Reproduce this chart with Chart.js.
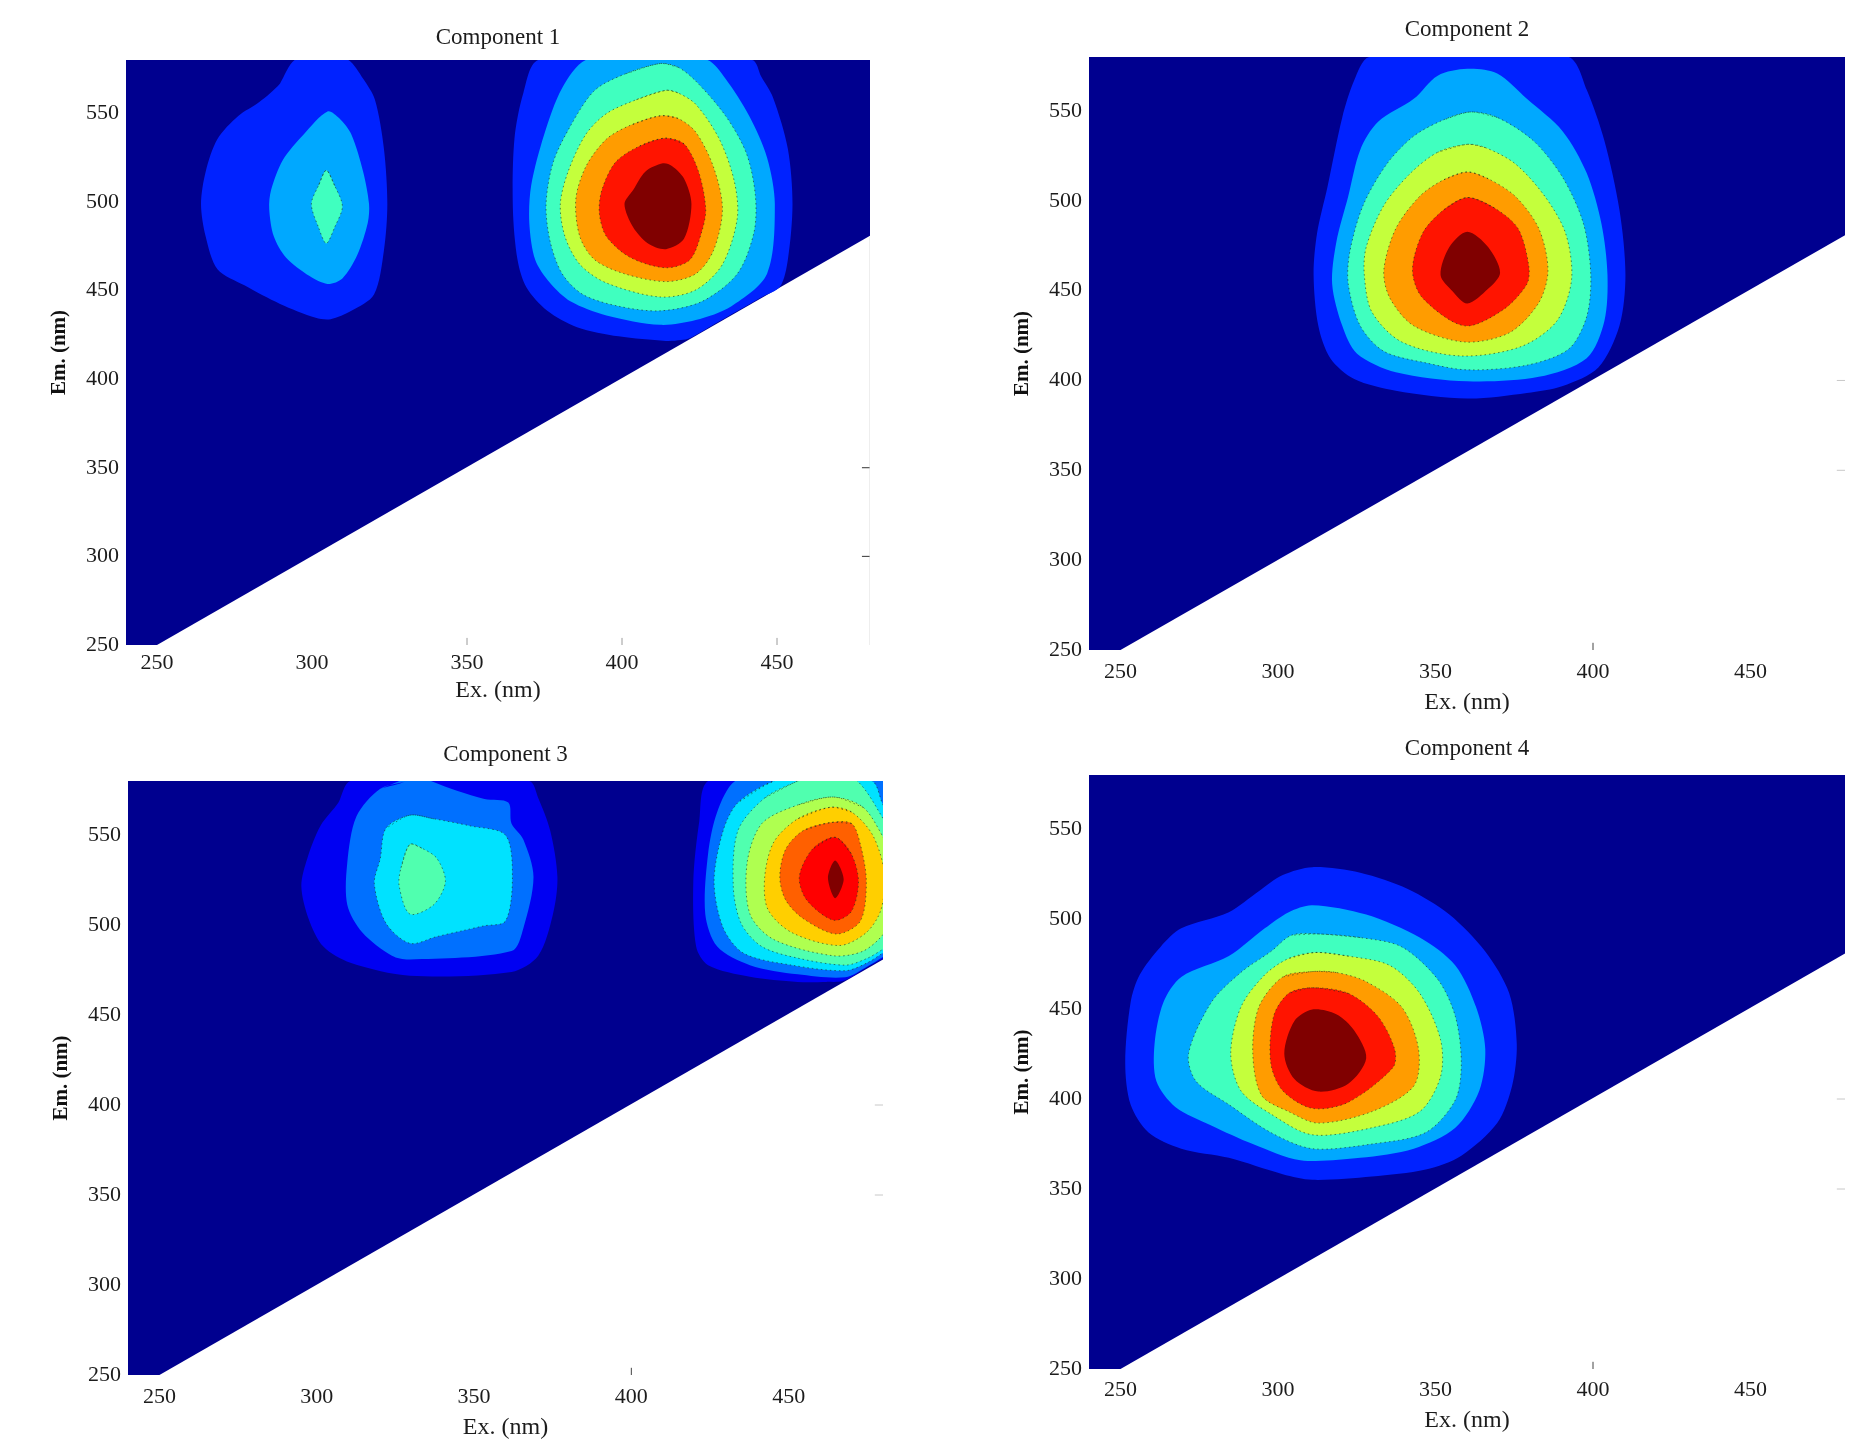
<!DOCTYPE html>
<html lang="en">
<head>
    <meta charset="UTF-8">
    <title>Components</title>
    <script src="https://cdn.jsdelivr.net/npm/chart.js"></script>
    <style>
        body { margin: 0; background: #fff; width: 1864px; height: 1456px; position: relative; overflow: hidden; }
        canvas { position: absolute; filter: blur(0.7px); }
    </style>
</head>
<body>
<script>
    const exTicks = [250, 300, 350, 400, 450];
    const emTicks = [250, 300, 350, 400, 450, 500, 550];
    const titles = ["Component 1", "Component 2", "Component 3", "Component 4"];

    // measured area: everything above the Em = Ex line
    const measuredArea = [[240,250],[250,250],[480,480.8],[480,580],[240,580]];

    // Component 1, left peak
    const c1LeftA = [[294.4,580],[289.7,566.8],[283,556.3],[276.2,548.4],[269.5,535.4],[265.7,517],[264.2,498.7],[265.7,480.4],[269.5,462],[278.2,452.9],[289.7,442.4],[301.2,434.6],[306,433.8],[312.7,438.5],[320,447.7],[323.2,472.5],[324.3,498.7],[323.2,530],[320.3,557.6],[316.5,569.4],[311.7,580],[303,584]];
    const c1LeftB = [[305,551],[297.3,538],[290.6,523.6],[286.8,506.6],[286.2,496],[287.7,480.4],[291.6,468.6],[299.2,458.1],[305,453.7],[309.8,456.8],[314.6,470],[318,488.2],[318.4,498.7],[316.5,517],[312.7,538],[308.8,547.1]];
    const c1LeftC = [[304.6,517.8],[302.1,509.2],[299.8,498.7],[302.1,485.6],[304.6,476.5],[307.3,485.6],[309.8,497.4],[307.3,509.2]];
    // Component 1, right peak
    const c1RightA = [[373,580],[368.2,561.5],[365.3,535.4],[364.8,496.1],[366.3,467.3],[369.2,451.6],[375.9,438.5],[385.5,429.3],[398.9,424.1],[414.2,421.5],[419,422],[422,423.2],[430,431.2],[437.2,438.4],[445,446.2],[451,452.2],[453.5,467.3],[455,498.7],[453.5,530],[448.7,558.9],[444.9,570.7],[442,580],[408,586]];
    const c1RightB = [[388.3,580],[380.7,564.2],[374.9,538],[370.7,509.2],[370.1,488.2],[372,467.3],[376.8,454.2],[383.5,443.7],[395,435.9],[412.3,430.6],[423.8,433.3],[435.3,441.1],[446.8,459.4],[449.3,498.7],[446.8,524.9],[441,548.5],[433.4,569.4],[427.6,580],[408,586]];
    const c1RightC = [[412.3,578],[400.8,572],[391.2,562.9],[383.5,543.2],[377.8,522.3],[375.5,498.7],[376.8,477.8],[380.7,459.4],[387.4,447.7],[398.9,441.1],[412.3,438.5],[425.7,443.7],[437.2,459.4],[442.6,483],[443,504],[440.1,527.5],[433.4,548.5],[423.8,568.1],[418,576]];
    const c1RightD = [[414.2,562.9],[404.6,557.6],[395,549.8],[388.3,538],[382.6,517],[380.1,498.7],[381.6,480.4],[386.4,464.7],[395,454.2],[412.3,446.3],[423.8,450.3],[432.4,464.7],[437.2,490.9],[436.2,511.8],[431.4,535.4],[423.8,555],[418,561.5]];
    const c1RightE = [[412.3,548.5],[402.7,543.2],[395,535.4],[388.3,519.7],[385.1,501.3],[386.4,480.4],[391.2,467.3],[400.8,459.4],[414.2,455],[423.8,459.4],[429.5,472.5],[432.4,496.1],[429.5,519.7],[423.8,539.3],[418,547.1]];
    const c1RightF = [[413.8,535.9],[405.6,531.4],[397.9,522.3],[393.5,506.6],[392.7,493.5],[395,480.4],[402.7,468.6],[414.2,462.8],[421.9,467.3],[425.7,483],[427,496.1],[424.7,517],[420,532.7]];
    const c1RightG = [[413.2,521.7],[407.5,517],[403.6,506.6],[400.8,498.7],[403.6,485.6],[408.4,476.5],[414.2,473.3],[420,479.1],[422.4,498.7],[420,513.1],[416.1,520.2]];

    // Component 2
    const c2A = [[328.9,580],[324.2,567],[320.4,546.4],[315.7,507.7],[312.4,481.9],[311.3,458.7],[312.8,430.4],[316.6,412.4],[324.2,400.8],[337.4,394.3],[360.1,389.9],[379,393],[390.4,396.9],[401.7,407.2],[408.4,430.4],[410.3,458.7],[408.4,494.8],[403.6,533.5],[398,561.8],[392.3,580],[360,586]];
    const c2B = [[360.1,573.4],[350.7,569.6],[343.1,556.7],[331.7,543.8],[326.1,528.3],[322.3,502.5],[318.5,476.8],[317.2,453.6],[320.4,430.4],[325.1,414.9],[337.4,404.6],[360.1,399.5],[382.8,402],[398,412.4],[403.6,433],[404.6,458.7],[402.7,487.1],[398,515.4],[390.4,538.6],[379,556.7],[369.6,570.8]];
    const c2C = [[361.1,549.4],[352.5,545],[343.1,536],[334.6,520.6],[327,497.4],[322.8,471.6],[322.3,453.6],[326.1,430.4],[333.6,416.2],[346.9,409.8],[360.1,405.9],[379,408.5],[392.3,417.5],[398,435.5],[399.3,458.7],[397,487.1],[390.4,512.9],[381,533.5],[369.6,546.4]];
    const c2D = [[360.1,531.4],[350.7,527],[342.1,515.4],[333.6,497.4],[328,474.2],[327.4,458.7],[329.8,438.1],[339.3,421.4],[358.2,413.6],[377.1,418.8],[388.5,433],[393.2,456.2],[391.3,481.9],[384.7,502.5],[375.3,520.6],[365.8,529.6]];
    const c2E = [[360.1,516],[352.5,511.6],[345,502.5],[337.4,484.5],[333.6,461.3],[335.5,445.9],[343.1,430.4],[359.2,421.4],[373.4,426.5],[382.8,443.3],[385.7,461.3],[382.8,484.5],[375.3,502.5],[366.7,512.3]];
    const c2F = [[360.1,501.8],[352.5,494.8],[345.9,481.9],[342.7,461.3],[345.9,445.9],[359.2,430.4],[371.5,439.4],[379,453.6],[379.6,463.9],[376.2,484.5],[368.6,496.1]];
    const c2G = [[360.1,482.7],[354.4,474.2],[351.6,458.7],[355.4,449.7],[360.1,442.8],[366.7,451],[370.5,460],[366.7,474.2]];

    // Component 3, left peak
    const c3LeftA = [[310.7,580],[306.9,568],[301.2,555.1],[297,537],[295.1,521.6],[297.4,503.5],[302.1,488],[310.7,479],[329.6,471.8],[361.9,473.9],[370.4,482.9],[375.1,506.1],[376.5,526.7],[374.2,552.5],[370.4,570.6],[367.6,580],[340,586]];
    const c3LeftB = [[328.7,580],[320.2,575.7],[312.6,560.3],[309.7,534.5],[309.7,511.3],[314.5,495.8],[323.9,482.9],[329.6,480.8],[361.9,485.5],[365.7,498.4],[368.9,526.7],[365.7,547.4],[361.9,556.4],[360.9,568],[353.3,570],[344.8,574.4],[336.3,580],[332,584]];
    const c3LeftC = [[329.6,561],[322,553.8],[320.2,537],[318.3,522.9],[322,501],[329.6,489.8],[338,493.5],[346.7,497],[353,499.5],[360,502.2],[362.2,526.7],[360,549.9],[348.6,555.1],[337.2,559]];
    const c3LeftD = [[329.6,544.8],[326.8,531.9],[326.2,521.6],[329.6,506.1],[337.2,511.3],[340.9,524.1],[338.2,537],[333.4,542.7]];
    // Component 3, right peak (runs off the right edge)
    const c3RightA = [[424.4,580],[421.6,557.7],[419.7,524.1],[420.6,488],[424.4,477.7],[437.7,471.3],[452.9,468.4],[462,468.4],[467.5,469],[474,475.6],[480.5,481.8],[482,483],[486,500],[486,590],[450,590]];
    const c3RightB = [[433,580],[427.3,562.8],[424.4,539.6],[423.5,506.1],[427.3,488],[437.7,477.7],[452.9,472.6],[468,471],[475,477],[480.5,482.8],[482,484],[486,500],[486,590],[450,590]];
    const c3RightC = [[445.3,580],[433.9,568],[429.2,552.5],[426.3,524.1],[429.2,498.4],[435.8,484.2],[451,477.7],[468,474.6],[475,479],[480.5,485],[484,488],[486,510],[486,560],[480.5,565.4],[476.6,580],[460,586]];
    const c3RightD = [[452.9,580],[442.4,570.6],[433.9,552.5],[432.4,521.6],[434.9,500.9],[441.5,488],[452.9,481.6],[468,477.7],[475,481.5],[480.5,487],[484,490],[486,510],[486,540],[480.5,557.7],[471.8,580],[462,586]];
    const c3RightE = [[464.2,571.1],[452.9,566.7],[441.5,556.4],[436.8,534.5],[437.7,506.1],[445.3,491.9],[464.2,482.9],[473.7,485.5],[480.5,495.8],[484,510],[484,535],[480.5,547.4],[473.7,565.4]];
    const c3RightF = [[463.3,565.4],[452.9,559],[445.3,546.1],[442.4,526.7],[443.4,508.7],[451,495.8],[466.1,488.6],[474.7,495.8],[479.4,508.7],[480.4,529.3],[476.7,550],[470,562.8]];
    const c3RightG = [[463.3,556.9],[454.7,552.5],[449.1,542.2],[447.2,526.7],[449.1,513.8],[454.7,503.5],[465.2,495],[472.8,502.2],[474.7,524.1],[472.8,544.8],[470,556.4]];
    const c3RightH = [[464.8,548.7],[457.6,542.2],[453.4,526.7],[455.8,513.8],[464.2,502.7],[469.9,507.4],[472.2,524.1],[469.9,539.6]];
    const c3RightI = [[464.8,535.8],[462.5,526.2],[464.8,514.9],[467.5,525.4]];

    // Component 4
    const c4A = [[310.9,528.8],[301.5,524.4],[293.9,515.4],[284.4,503.8],[269.3,494.8],[262.7,484.5],[256.1,469],[253.2,453.6],[251.5,420.1],[253.2,396.9],[258.9,381.4],[269.3,372.4],[284.4,367.3],[301.5,358.2],[310.9,355.1],[329.8,356.9],[346.9,360.8],[358.2,368.5],[369.6,386.6],[374.3,407.2],[375.8,430.4],[373.4,458.7],[365.8,481.9],[354.4,502.5],[341.2,516.7],[326.1,525.7]];
    const c4B = [[310.9,507.7],[303.4,503.8],[295.8,494.8],[284.4,479.4],[269.3,467.8],[263.6,453.6],[260.8,430.4],[261.4,409.8],[267.4,395.6],[278.8,385.3],[292,375],[307.1,366],[326.1,367.3],[343.1,372.4],[356.3,384],[363.9,404.6],[365.8,427.8],[362.9,451],[356.3,474.2],[345,489.7],[328,502.5]];
    const c4C = [[312.8,491.7],[304.3,491],[297.7,481.9],[288.2,470.3],[278.8,453.6],[271.6,425.2],[274,409.8],[284.4,396.9],[297.7,381.4],[310.9,372.4],[329.8,375],[346.9,381.4],[356.3,399.5],[358.2,420.1],[356.3,445.9],[350.7,466.5],[339.3,484.5],[326.1,489.7]];
    const c4D = [[311.9,481.4],[303.4,478.1],[295.8,469],[288.2,451],[285,425.2],[288.2,404.6],[297.7,391.7],[310.9,380.1],[329.8,384],[345,393],[351.6,412.4],[351.6,433],[345,458.7],[335.5,474.2],[322.3,479.4]];
    const c4E = [[310.9,470.8],[301.5,467.8],[293.9,451],[292,425.2],[294.8,402],[303.4,393],[312.8,386.6],[329.8,393],[343.1,407.2],[344.6,427.8],[339.3,451],[328,465.2],[318.5,470.3]];
    const c4F = [[310.9,461.8],[303.4,458.7],[298.6,445.9],[297.7,420.1],[301.5,404.6],[310.9,394.8],[322.3,398.2],[336.5,417.5],[337,427.8],[331.7,445.9],[322.3,458.7]];
    const c4G = [[310.9,449.7],[305.2,443.3],[302,425.2],[305.2,411.1],[312.8,404.1],[322.3,408.5],[328,422.7],[324.2,438.1],[318.5,447.1]];

    // short tick marks that survive on the white part of each plot
    const c1TickX = [350, 400, 450];
    const c1TickY = [300, 350];
    const otherTickX = [400];
    const otherTickY = [350, 400];

    const jet7 = ["#0022ff", "#00a8ff", "#40ffbf", "#c4ff3c", "#ff9c00", "#ff1400", "#800000"];
    const jet9 = ["#0000f2", "#0070ff", "#00e2ff", "#50ffaf", "#afff50", "#ffcf00", "#ff6000", "#ff0000", "#800000"];
    const baseColor = "#00008f";

    const panels = [
        { plot: [126, 60, 870, 645], titleGap: 22, tickPad: 5, xTitleGap: 46, tickColor: "#9a9a9a", sideColor: "#333", edgeColor: "#dcdcdc",
          tickX: c1TickX, tickY: c1TickY, colors: jet7,
          shapes: [[c1LeftA, 0], [c1LeftB, 1], [c1LeftC, 2], [c1RightA, 0], [c1RightB, 1], [c1RightC, 2], [c1RightD, 3], [c1RightE, 4], [c1RightF, 5], [c1RightG, 6]] },
        { plot: [1089, 57, 1845, 650], titleGap: 27, tickPad: 9, xTitleGap: 53, tickColor: "#444", sideColor: "#c8c8c8",
          tickX: otherTickX, tickY: otherTickY, colors: jet7,
          shapes: [[c2A, 0], [c2B, 1], [c2C, 2], [c2D, 3], [c2E, 4], [c2F, 5], [c2G, 6]] },
        { plot: [128, 781, 883, 1375], titleGap: 26, tickPad: 9, xTitleGap: 53, tickColor: "#444", sideColor: "#c8c8c8",
          tickX: otherTickX, tickY: otherTickY, colors: jet9,
          shapes: [[c3LeftA, 0], [c3LeftB, 1], [c3LeftC, 2], [c3LeftD, 3], [c3RightA, 0], [c3RightB, 1], [c3RightC, 2], [c3RightD, 3], [c3RightE, 4], [c3RightF, 5], [c3RightG, 6], [c3RightH, 7], [c3RightI, 8]] },
        { plot: [1089, 775, 1845, 1369], titleGap: 26, tickPad: 8, xTitleGap: 52, tickColor: "#444", sideColor: "#c8c8c8",
          tickX: otherTickX, tickY: otherTickY, colors: jet7,
          shapes: [[c4A, 0], [c4B, 1], [c4C, 2], [c4D, 3], [c4E, 4], [c4F, 5], [c4G, 6]] }
    ];

    const marginLeft = 100, marginTop = 50, marginRight = 8, marginBottom = 70;
    const serif = "'Liberation Serif', 'Times New Roman', serif";
    const textColor = "#1c1c1c";

    function toPoints(list) {
        return list.map(p => ({ x: p[0], y: p[1] }));
    }

    function shapeDataset(list, color, dotted) {
        // run once past the start so the spline closes without a kink
        let last = list[list.length - 1];
        return {
            data: toPoints([last].concat(list, [list[0], list[1]])),
            showLine: true,
            fill: "shape",
            backgroundColor: color,
            borderColor: dotted ? "rgba(20,50,30,0.6)" : color,
            borderWidth: dotted ? 1 : 0,
            borderDash: dotted ? [1.5, 3] : [],
            tension: 0.3,
            pointRadius: 0
        };
    }

    function tickDataset(from, to, color) {
        return {
            data: toPoints([from, to]),
            showLine: true,
            borderColor: color,
            borderWidth: 1,
            pointRadius: 0
        };
    }

    function drawPanel(panel, index) {
        let [left, top, right, bottom] = panel.plot;
        let canvas = document.createElement("canvas");
        let width = right - left + marginLeft + marginRight;
        let height = bottom - top + marginTop + marginBottom;
        canvas.width = width;
        canvas.height = height;
        canvas.style.left = (left - marginLeft) + "px";
        canvas.style.top = (top - marginTop) + "px";
        document.body.appendChild(canvas);

        let datasets = [];
        let base = shapeDataset(measuredArea, baseColor, false);
        base.tension = 0;
        base.data = toPoints(measuredArea);
        datasets.push(base);
        panel.shapes.forEach(s => {
            let level = s[1];
            let dotted = level >= 2 && level < panel.colors.length - 1;
            datasets.push(shapeDataset(s[0], panel.colors[level], dotted));
        });
        panel.tickX.forEach(v => datasets.push(tickDataset([v, 250], [v, 254], panel.tickColor)));
        panel.tickY.forEach(v => datasets.push(tickDataset([477.4, v], [480, v], panel.sideColor)));
        if (panel.edgeColor) datasets.push(tickDataset([480, 250], [480, 480], panel.edgeColor));
        // later datasets have to end up on top
        datasets.forEach((d, i) => { d.order = datasets.length - i; });

        let titleBelow = panel.titleGap - 13.8;
        new Chart(canvas.getContext("2d"), {
            type: "scatter",
            data: { datasets: datasets },
            options: {
                responsive: false,
                animation: false,
                devicePixelRatio: 1,
                layout: { padding: { right: marginRight } },
                plugins: {
                    legend: { display: false },
                    tooltip: { enabled: false },
                    title: {
                        display: true,
                        text: titles[index],
                        fullSize: false,
                        color: textColor,
                        font: { family: serif, size: 23, weight: "normal" },
                        padding: { top: 50 - 27.6 - titleBelow, bottom: titleBelow }
                    }
                },
                scales: {
                    x: {
                        type: "linear",
                        min: 240,
                        max: 480,
                        border: { display: false },
                        grid: { display: false, drawTicks: false },
                        afterBuildTicks: s => { s.ticks = exTicks.map(v => ({ value: v })); },
                        afterFit: s => { s.height = marginBottom; },
                        ticks: { autoSkip: false, maxRotation: 0, padding: panel.tickPad, color: textColor, font: { family: serif, size: 22 } },
                        title: {
                            display: true,
                            text: "Ex. (nm)",
                            color: textColor,
                            font: { family: serif, size: 24 },
                            padding: { top: 0, bottom: marginBottom - panel.xTitleGap - 14.4 }
                        }
                    },
                    y: {
                        type: "linear",
                        min: 250,
                        max: 580,
                        border: { display: false },
                        grid: { display: false, drawTicks: false },
                        afterBuildTicks: s => { s.ticks = emTicks.map(v => ({ value: v })); },
                        afterFit: s => { s.width = marginLeft; },
                        ticks: { autoSkip: false, padding: 7, color: textColor, font: { family: serif, size: 22 } },
                        title: {
                            display: true,
                            text: "Em. (nm)",
                            color: "#111",
                            font: { family: serif, size: 21, weight: "bold" },
                            padding: { top: 21, bottom: 0 }
                        }
                    }
                }
            }
        });
    }

    panels.forEach(drawPanel);
</script>
</body>
</html>
